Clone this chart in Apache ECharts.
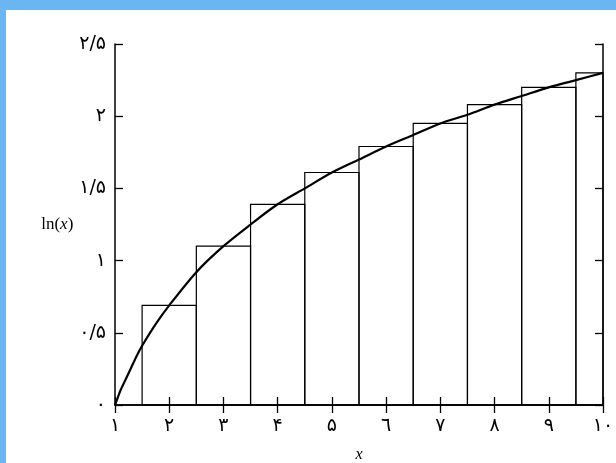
<!DOCTYPE html>
<html lang="fa">
  <head>
    <meta charset="UTF-8" />
    <title>ln(x)</title>
    <script src="https://cdn.jsdelivr.net/npm/echarts@6/dist/echarts.min.js"></script>
    <style>
      html,
      body {
        margin: 0;
        padding: 0;
        background: #fff;
      }
      .frame {
        width: 616px;
        height: 463px;
        box-sizing: border-box;
        border-top: 10px solid #6bb6f2;
        border-left: 6px solid #6bb6f2;
      }
      .con {
        width: 610px;
        height: 453px;
      }
    </style>
  </head>
  <body>
    <div class="frame"><div class="con"></div></div>
    <script>
      // tick labels (Persian digits, '/' as decimal sign)
      let xTickLabels = ["۱", "۲", "۳", "۴", "۵", "٦", "۷", "۸", "۹", "۱۰"];
      let yTickLabels = ["۰", "۰/۵", "۱", "۱/۵", "۲", "۲/۵"];

      // rectangles: left edge, right edge, height
      let barLeft = [1.5, 2.5, 3.5, 4.5, 5.5, 6.5, 7.5, 8.5, 9.5];
      let barRight = [2.5, 3.5, 4.5, 5.5, 6.5, 7.5, 8.5, 9.5, 10];
      let barHeight = [0.69, 1.1, 1.39, 1.61, 1.79, 1.95, 2.08, 2.2, 2.3];

      // curve points
      let curveX = [1, 1.05, 1.1, 1.2, 1.3, 1.4, 1.5, 1.75, 2, 2.5, 3, 3.5, 4, 4.5, 5, 5.5, 6, 6.5, 7, 7.5, 8, 8.5, 9, 9.5, 10];
      let curveY = [0, 0.05, 0.1, 0.18, 0.26, 0.34, 0.41, 0.56, 0.69, 0.92, 1.1, 1.25, 1.39, 1.5, 1.61, 1.7, 1.79, 1.87, 1.95, 2.01, 2.08, 2.14, 2.2, 2.25, 2.3];

      let barData = barLeft.map((l, i) => [l, barRight[i], barHeight[i]]);
      let curveData = curveX.map((x, i) => [x, curveY[i]]);

      let font = "DejaVu Sans";
      let serif = "Liberation Serif";
      let mychart = echarts.init(document.querySelector(".con"));

      let axisLine = { show: true, lineStyle: { color: "#000", width: 1.5 } };
      let tick = { show: true, inside: true, length: 8, lineStyle: { color: "#000", width: 1.3 } };
      let labelStyle = { fontFamily: font, fontSize: 19, color: "#000" };

      let options = {
        animation: false,
        // v6 pulls the grid in to keep labels on screen; switch that off
        grid: { left: 109, right: 13, top: 34, bottom: 58, outerBoundsMode: "none" },
        xAxis: [
          {
            type: "value",
            min: 1,
            max: 10,
            interval: 1,
            z: 10,
            name: "x",
            nameLocation: "middle",
            nameGap: 42,
            nameTextStyle: { fontFamily: serif, fontStyle: "italic", fontSize: 16, color: "#000" },
            axisLine: axisLine,
            axisTick: tick,
            splitLine: { show: false },
            axisLabel: Object.assign({ margin: 12, formatter: (v) => xTickLabels[Math.round(v) - 1] }, labelStyle),
          },
          {
            type: "value",
            position: "top",
            min: 1,
            max: 10,
            interval: 1,
            z: 10,
            axisLine: axisLine,
            axisTick: tick,
            axisLabel: { show: false },
            splitLine: { show: false },
          },
        ],
        yAxis: [
          {
            type: "value",
            min: 0,
            max: 2.5,
            interval: 0.5,
            z: 10,
            name: "{a|ln(}{b|x}{a|)}",
            nameLocation: "middle",
            nameRotate: 0,
            nameGap: 39,
            nameTextStyle: {
              align: "right",
              rich: {
                a: { fontFamily: serif, fontSize: 17, color: "#000" },
                b: { fontFamily: serif, fontSize: 17, fontStyle: "italic", color: "#000" },
              },
            },
            axisLine: axisLine,
            axisTick: tick,
            splitLine: { show: false },
            axisLabel: Object.assign({ margin: 9, formatter: (v) => yTickLabels[Math.round(v * 2)] }, labelStyle),
          },
          {
            type: "value",
            position: "right",
            min: 0,
            max: 2.5,
            interval: 0.5,
            z: 10,
            axisLine: axisLine,
            axisTick: tick,
            axisLabel: { show: false },
            splitLine: { show: false },
          },
        ],
        series: [
          {
            // the rectangles under the curve (outline only)
            type: "custom",
            data: barData,
            renderItem: function (params, api) {
              let p0 = api.coord([api.value(0), 0]);
              let p1 = api.coord([api.value(1), api.value(2)]);
              return {
                type: "rect",
                shape: { x: p0[0], y: p1[1], width: p1[0] - p0[0], height: p0[1] - p1[1] },
                style: { fill: "none", stroke: "#000", lineWidth: 1.2 },
              };
            },
            encode: { x: [0, 1], y: 2 },
            z: 2,
          },
          {
            type: "line",
            data: curveData,
            smooth: 0.3,
            showSymbol: false,
            lineStyle: { color: "#000", width: 2.2 },
            z: 3,
          },
        ],
      };
      mychart.setOption(options);
    </script>
  </body>
</html>
